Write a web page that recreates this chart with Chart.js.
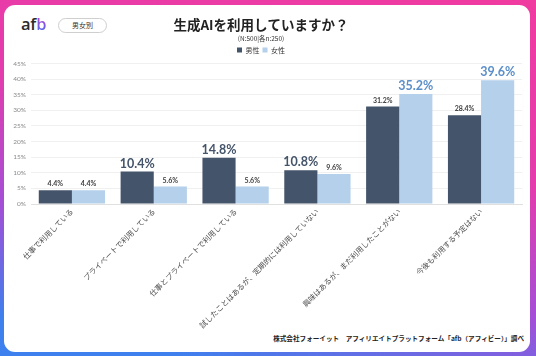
<!DOCTYPE html>
<html>
<head>
<meta charset="utf-8">
<script src="https://cdn.jsdelivr.net/npm/chart.js@4"></script>
<style>
  html, body { margin:0; padding:0; }
  body {
    width:536px; height:356px; overflow:hidden; position:relative;
    background: linear-gradient(192deg, #f03ba0 0%, #e33cad 40%, #a34fd7 68%, #3d80ee 92%);
    font-family: "Noto Sans CJK JP", "Noto Sans", sans-serif;
  }
  #card {
    position:absolute; left:4px; top:5px; width:526px; height:347px;
    background:#fff; border-radius:11px;
  }
  #logo {
    position:absolute; left:21px; top:14px; font-family:"Open Sans", sans-serif;
    font-weight:600; font-size:16.5px; letter-spacing:-0.2px; color:#2b2b2b; line-height:20px;
  }
  #logo span {
    background: linear-gradient(180deg, #e23fb0, #7b57e6 60%, #3d80ee);
    -webkit-background-clip: text; background-clip:text; color: transparent;
  }
  #pill {
    position:absolute; left:58px; top:18px; width:49px; height:15px;
    border:1px solid #cfcfcf; border-radius:9px; box-sizing:border-box;
    font-size:7px; line-height:13px; text-align:center; color:#333;
  }
  #foot {
    position:absolute; right:12px; top:333px; font-size:6.6px; font-weight:700; color:#222;
    white-space:nowrap;
  }
  canvas { position:absolute; left:0; top:0; }
</style>
</head>
<body>
<div id="card"></div>
<div id="logo">af<span>b</span></div>
<div id="pill">男女別</div>
<div id="foot">株式会社フォーイット　アフィリエイトプラットフォーム「afb（アフィビー）」調べ</div>
<canvas id="c" width="536" height="356"></canvas>
<script>
const categories = [
  "仕事で利用している",
  "プライベートで利用している",
  "仕事とプライベートで利用している",
  "試したことはあるが、定期的には利用していない",
  "興味はあるが、まだ利用したことがない",
  "今後も利用する予定はない"
];
const seriesNames = ["男性", "女性"];
const maleValues   = [4.4, 10.4, 14.8, 10.8, 31.2, 28.4];
const femaleValues = [4.4, 5.6, 5.6, 9.6, 35.2, 39.6];
const yTicks = [0, 5, 10, 15, 20, 25, 30, 35, 40, 45];
const titleText = "生成AIを利用していますか？";
const subtitleText = "(N:500|各n:250)";

const MALE = "#44546a", FEMALE = "#b4d0eb";

const valueLabels = {
  id: "valueLabels",
  afterDatasetsDraw(chart) {
    const ctx = chart.ctx;
    const ds = chart.data.datasets;
    ds.forEach((d, di) => {
      const meta = chart.getDatasetMeta(di);
      meta.data.forEach((bar, i) => {
        const v = d.data[i];
        const other = ds[1 - di].data[i];
        const big = v > other;
        ctx.save();
        ctx.font = big ? "bold 12.5px Lato" : "bold 7px Lato";
        ctx.fillStyle = big ? (di === 0 ? "#44546a" : "#5b8fc9") : "#404040";
        ctx.textAlign = "center";
        ctx.textBaseline = "alphabetic";
        ctx.fillText(v.toFixed(1) + "%", bar.x, bar.y - 4);
        ctx.restore();
      });
    });
  }
};

new Chart(document.getElementById("c"), {
  type: "bar",
  data: {
    labels: categories,
    datasets: [
      { label: seriesNames[0], data: maleValues, backgroundColor: MALE },
      { label: seriesNames[1], data: femaleValues, backgroundColor: FEMALE }
    ]
  },
  options: {
    responsive: false,
    animation: false,
    devicePixelRatio: 1,
    layout: { padding: { left: 0, right: 14, top: 0, bottom: 0 } },
    datasets: { bar: { categoryPercentage: 0.81, barPercentage: 1.0 } },
    plugins: {
      tooltip: { enabled: false },
      title: {
        display: true, text: titleText, color: "#222",
        font: { family: "Noto Sans CJK JP", size: 13.5, weight: "bold" },
        padding: { top: 17, bottom: 1 }
      },
      subtitle: {
        display: true, text: subtitleText, color: "#333",
        font: { family: "Noto Sans CJK JP", size: 6.5 },
        padding: { top: 0, bottom: 1.5 }
      },
      legend: {
        display: true,
        labels: {
          boxWidth: 5, boxHeight: 5, padding: 3, color: "#333",
          font: { family: "Noto Sans CJK JP", size: 7 }
        }
      }
    },
    scales: {
      x: {
        grid: { display: false, drawTicks: false },
        border: { display: true, color: "#e0e0e0" },
        ticks: {
          autoSkip: false, minRotation: 45, maxRotation: 45, padding: 3,
          color: "#505050", font: { family: "Noto Sans CJK JP", size: 7.5 }
        },
        afterFit(s) { s.height = 152; }
      },
      y: {
        min: 0, max: 45,
        afterBuildTicks(s) { s.ticks = yTicks.map(v => ({ value: v })); },
        grid: { color: "#ececec", lineWidth: 0.8, drawTicks: false },
        border: { display: false },
        ticks: {
          padding: 5, color: "#8a8a8a",
          font: { family: "Lato", size: 6.5 },
          callback: v => v + "%"
        },
        afterFit(s) { s.width = 31; }
      }
    }
  },
  plugins: [valueLabels]
});
</script>
</body>
</html>
